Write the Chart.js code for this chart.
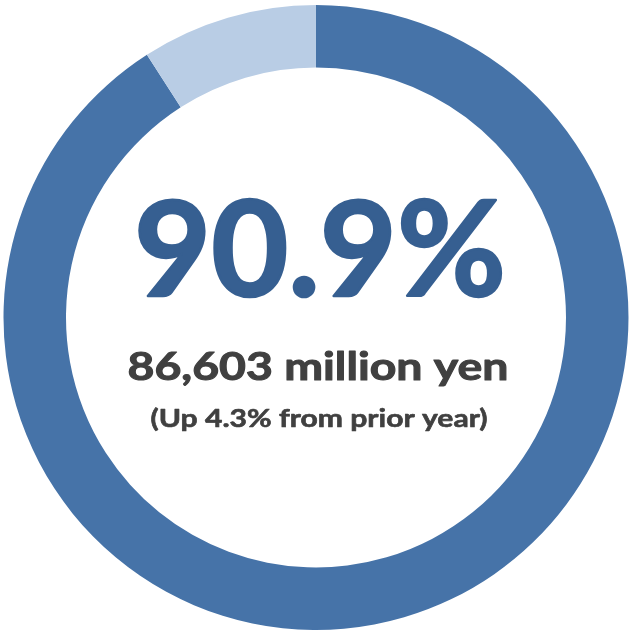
<!DOCTYPE html>
<html>
<head>
<meta charset="utf-8">
<script src="https://cdn.jsdelivr.net/npm/chart.js"></script>
<style>
  html, body { margin:0; padding:0; background:#fff; }
  #wrap { width:629px; height:631px; position:relative; }
</style>
</head>
<body>
<div id="wrap"><canvas id="ring"></canvas></div>
<script>
// share of total
const labels = ['Share', 'Other'];
const shares = [90.9, 9.1];
const colors = ['#4673A8', '#B9CDE5'];

// center captions
const mainText = '90.9%';
const amountText = '86,603 million yen';
const noteText = '(Up 4.3% from prior year)';
const FONT = 'Lato';

// draw a line of text centred on x, fitted to a target width
function fitText(ctx, txt, cx, baseline, size, width, color, heavy){
  ctx.save();
  ctx.font = `700 ${size}px "${FONT}", sans-serif`;
  ctx.fillStyle = color;
  ctx.strokeStyle = color;
  ctx.lineJoin = 'round';
  ctx.textAlign = 'center';
  ctx.textBaseline = 'alphabetic';
  const w = ctx.measureText(txt).width;
  ctx.translate(cx, baseline);
  ctx.scale(width / w, 1);
  ctx.fillText(txt, 0, 0);
  if (heavy){ ctx.lineWidth = heavy; ctx.strokeText(txt, 0, 0); }
  ctx.restore();
}

const centerText = {
  id: 'centerText',
  afterDraw(chart){
    const ctx = chart.ctx;
    const arc = chart.getDatasetMeta(0).data[0];
    const cx = arc.x;
    fitText(ctx, mainText, cx + 4, 296, 133, 372, '#365F91', 2.5);
    fitText(ctx, amountText, cx + 2, 379.5, 37.5, 381, '#404040', 1);
    fitText(ctx, noteText, cx + 3, 427, 24, 337, '#404040', 0.6);
  }
};

function draw(){
  new Chart(document.getElementById('ring'), {
    type: 'doughnut',
    data: {
      labels,
      datasets: [{ data: shares, backgroundColor: colors, borderWidth: 0 }]
    },
    options: {
      responsive: true,
      maintainAspectRatio: false,
      animation: false,
      cutout: '80%',
      layout: { padding: { left: 3.5, right: 0.5, top: 5, bottom: 1 } },
      plugins: { legend: { display: false }, tooltip: { enabled: false } }
    },
    plugins: [centerText]
  });
}

Promise.all([
  document.fonts.load(`700 133px "${FONT}"`),
  document.fonts.load(`700 24px "${FONT}"`)
]).then(draw, draw);
</script>
</body>
</html>
